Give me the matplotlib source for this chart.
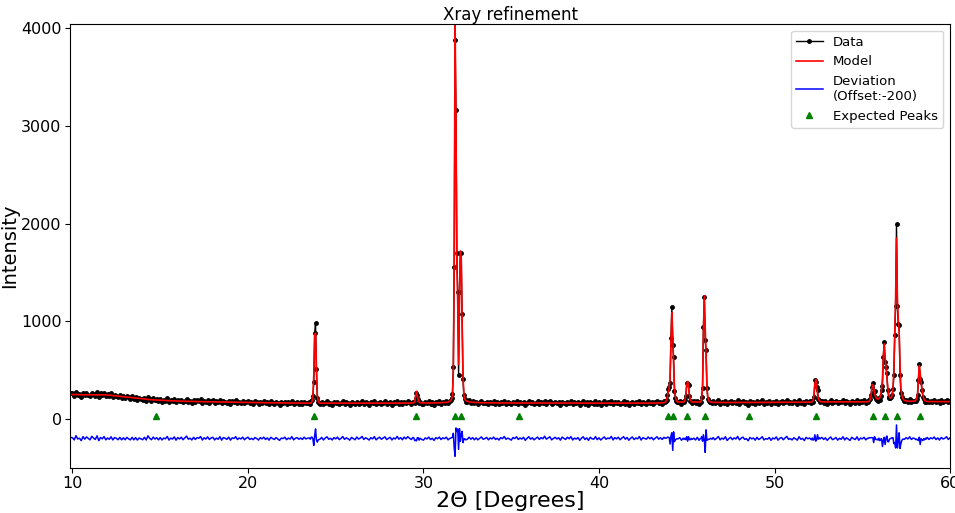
import numpy as np
import matplotlib
matplotlib.use("Agg")
import matplotlib.pyplot as plt

nan = np.nan

# Coarse scan, 0.1 deg steps from 9.9 to 60.0 (one row per degree).
# nan = covered by the finer scan around the peaks below.
bg_counts = [265,
    262, 238, 281, 247, 255, 229, 270, 243, 266, 251,   # 10
    236, 272, 255, 241, 279, 230, 262, 248, 271, 236,   # 11
    254, 239, 262, 228, 250, 241, 224, 246, 219, 238,   # 12
    216, 238, 221, 209, 232, 205, 226, 199, 218, 207,   # 13
    196, 219, 190, 231, 204, 187, 213, 192, 205, 181,   # 14
    203, 178, 196, 188, 211, 174, 193, 182, 204, 170,   # 15
    196, 181, 199, 172, 190, 208, 177, 186, 168, 195,   # 16
    172, 191, 183, 201, 165, 187, 174, 196, 169, 184,   # 17
    191, 163, 182, 170, 195, 160, 186, 178, 167, 190,   # 18
    158, 181, 175, 192, 163, 179, 168, 186, 160, 177,   # 19
    185, 162, 174, 159, 181, 170, 155, 178, 166, 183,   # 20
    160, 175, 152, 181, 169, 158, 177, 163, 149, 172,   # 21
    166, 180, 155, 171, 161, 185, 152, 168, 175, 158,   # 22
    171, 155, 178, 160, 168, nan, nan, nan, nan, nan,   # 23
    nan, 158, 176, 150, 169, 182, 157, 166, 149, 173,   # 24
    160, 178, 152, 165, 184, 155, 170, 161, 147, 175,   # 25
    163, 151, 179, 158, 168, 185, 154, 171, 162, 148,   # 26
    172, 160, 183, 150, 166, 177, 156, 169, 181, 153,   # 27
    165, 176, 149, 170, 160, 186, 158, 174, 152, 179,   # 28
    161, 183, 170, 155, 178, nan, nan, nan, nan, 158,   # 29
    150, 173, 162, 181, 156, 170, 148, 176, 165, 183,   # 30
    158, 177, 169, 186, 163, nan, nan, nan, nan, nan,   # 31
    nan, nan, nan, nan, nan, 175, 192, 168, 183, 160,   # 32
    178, 157, 172, 186, 161, 168, 180, 154, 174, 163,   # 33
    182, 158, 170, 151, 176, 165, 187, 159, 171, 162,   # 34
    150, 177, 166, 184, 157, 172, 161, 179, 148, 169,   # 35
    185, 160, 174, 153, 168, 181, 157, 176, 164, 190,   # 36
    159, 171, 183, 152, 166, 178, 161, 173, 149, 180,   # 37
    167, 156, 179, 163, 185, 151, 170, 160, 175, 147,   # 38
    168, 182, 155, 171, 146, 177, 162, 158, 184, 153,   # 39
    172, 149, 166, 181, 157, 170, 163, 186, 150, 174,   # 40
    161, 178, 152, 169, 183, 158, 175, 147, 167, 180,   # 41
    155, 171, 162, 186, 150, 174, 166, 159, 181, 163,   # 42
    177, 152, 170, 185, 160, 176, 158, 182, nan, nan,   # 43
    nan, nan, nan, nan, nan, nan, 187, 158, 179, nan,   # 44
    nan, nan, nan, nan, 181, 162, 189, 157, nan, nan,   # 45
    nan, nan, nan, nan, nan, 183, 160, 175, 192, 158,   # 46
    176, 165, 190, 152, 171, 184, 160, 178, 167, 193,   # 47
    158, 175, 186, 163, 170, 149, 182, 168, 177, 155,   # 48
    185, 162, 174, 191, 158, 172, 166, 183, 154, 178,   # 49
    169, 190, 157, 176, 184, 161, 179, 195, 165, 173,   # 50
    160, 182, 171, 158, 193, 167, 176, 154, 186, 172,   # 51
    181, 163, nan, nan, nan, nan, nan, 190, 168, 185,   # 52
    159, 178, 193, 166, 174, 188, 161, 180, 170, 196,   # 53
    163, 185, 172, 158, 190, 176, 167, 195, 160, 182,   # 54
    174, 191, 165, 183, nan, nan, nan, nan, nan, nan,   # 55
    nan, nan, nan, nan, nan, nan, nan, nan, nan, nan,   # 56
    nan, nan, nan, nan, nan, 196, 180, 201, 174, 190,   # 57
    185, nan, nan, nan, nan, nan, nan, 194, 172, 188,   # 58
    178, 196, 170, 187, 165, 192, 176, 183, 199, 171,   # 59
    188]

bg_model = [252,
    252, 251, 251, 250, 250, 249, 249, 248, 248, 248,   # 10
    248, 248, 249, 249, 250, 250, 250, 250, 249, 248,   # 11
    247, 245, 243, 241, 239, 237, 235, 233, 231, 229,   # 12
    227, 225, 223, 221, 219, 217, 215, 213, 211, 209,   # 13
    207, 205, 203, 202, 200, 198, 197, 196, 195, 193,   # 14
    192, 191, 190, 189, 188, 188, 187, 186, 186, 185,   # 15
    185, 184, 184, 183, 183, 182, 182, 181, 181, 181,   # 16
    180, 180, 179, 179, 179, 178, 178, 178, 177, 177,   # 17
    177, 176, 176, 176, 175, 175, 175, 174, 174, 174,   # 18
    173, 173, 173, 172, 172, 172, 171, 171, 171, 171,   # 19
    170, 170, 170, 169, 169, 169, 169, 168, 168, 168,   # 20
    168, 167, 167, 167, 167, 166, 166, 166, 166, 166,   # 21
    165, 165, 165, 165, 165, 164, 164, 164, 164, 164,   # 22
    164, 163, 163, 163, 163, nan, nan, nan, nan, nan,   # 23
    nan, 164, 163, 163, 163, 163, 163, 162, 162, 162,   # 24
    162, 162, 162, 162, 162, 162, 162, 162, 162, 162,   # 25
    162, 162, 162, 162, 162, 162, 162, 162, 162, 162,   # 26
    162, 162, 162, 162, 162, 162, 162, 162, 162, 162,   # 27
    162, 162, 162, 163, 163, 163, 163, 163, 163, 163,   # 28
    163, 163, 164, 164, 165, nan, nan, nan, nan, 166,   # 29
    165, 165, 165, 165, 165, 165, 166, 166, 166, 167,   # 30
    167, 168, 169, 171, 175, nan, nan, nan, nan, nan,   # 31
    nan, nan, nan, nan, nan, 181, 177, 174, 172, 171,   # 32
    170, 169, 168, 168, 167, 167, 167, 166, 166, 166,   # 33
    166, 166, 166, 165, 165, 165, 165, 165, 165, 165,   # 34
    165, 165, 165, 165, 165, 165, 165, 165, 165, 165,   # 35
    165, 165, 165, 165, 165, 165, 165, 165, 165, 165,   # 36
    164, 164, 164, 164, 164, 164, 164, 164, 164, 164,   # 37
    164, 164, 164, 164, 164, 164, 164, 164, 164, 164,   # 38
    163, 163, 163, 163, 163, 163, 163, 163, 163, 163,   # 39
    163, 163, 163, 163, 163, 163, 163, 163, 163, 163,   # 40
    163, 163, 163, 163, 163, 163, 163, 163, 163, 163,   # 41
    164, 164, 164, 164, 164, 164, 164, 164, 164, 164,   # 42
    164, 164, 165, 165, 165, 166, 166, 168, nan, nan,   # 43
    nan, nan, nan, nan, nan, nan, 176, 174, 174, nan,   # 44
    nan, nan, nan, nan, 176, 175, 175, 174, nan, nan,   # 45
    nan, nan, nan, nan, nan, 172, 171, 171, 170, 170,   # 46
    170, 170, 170, 170, 170, 170, 170, 170, 170, 170,   # 47
    170, 170, 170, 170, 170, 170, 170, 170, 170, 170,   # 48
    171, 171, 171, 171, 171, 171, 171, 171, 171, 171,   # 49
    172, 172, 172, 172, 172, 172, 172, 172, 172, 172,   # 50
    173, 173, 173, 173, 173, 173, 173, 173, 173, 173,   # 51
    174, 175, nan, nan, nan, nan, nan, 177, 176, 176,   # 52
    176, 176, 176, 176, 176, 176, 176, 176, 176, 176,   # 53
    176, 176, 176, 176, 176, 176, 176, 176, 176, 176,   # 54
    176, 177, 177, 178, nan, nan, nan, nan, nan, nan,   # 55
    nan, nan, nan, nan, nan, nan, nan, nan, nan, nan,   # 56
    nan, nan, nan, nan, nan, 186, 183, 182, 182, 183,   # 57
    185, nan, nan, nan, nan, nan, nan, 181, 180, 179,   # 58
    179, 179, 179, 179, 179, 179, 179, 179, 179, 179,   # 59
    179]

# Fine scan around the reflections, 0.05 deg steps from each start angle
pk_starts = [23.50, 29.45, 31.50, 43.75, 44.85, 45.75, 52.15, 55.35, 58.05]
pk_counts = [
    [170, 158, 182, 195, 236, 381, 880, 979, 508, 215, 172, 160],
    [175, 160, 215, 262, 250, 205, 160, 172],
    [185, 195, 215, 260, 535, 1557, 3880, 3160, 1694, 1300, 450, 1302,
     1694, 1694, 1074, 409, 250, 205, 180],
    [175, 185, 200, 250, 305, 330, 365, 830, 1150, 760, 630, 290, 220,
     190, 180, 172],
    [170, 200, 240, 370, 360, 350, 240, 190, 185, 168],
    [170, 180, 230, 314, 940, 1250, 810, 710, 314, 210, 185, 175, 180,
     172, 168],
    [185, 175, 230, 400, 380, 330, 300, 205, 200, 180, 185],
    [180, 195, 210, 250, 330, 365, 280, 290, 230, 205, 200, 190, 215,
     200, 240, 300, 340, 630, 784, 580, 535, 467, 300, 228, 220, 215,
     225, 250, 310, 450, 860, 1155, 1990, 1155, 971, 960, 450, 269, 230,
     210, 195, 185, 190],
    [185, 205, 250, 400, 560, 410, 380, 300, 230, 210, 180, 190, 178],
]
pk_model = [
    [163, 164, 167, 180, 240, 450, 850, 880, 520, 250, 185, 168],
    [168, 180, 230, 285, 240, 195, 175, 168],
    [182, 190, 205, 245, 480, 1650, 4060, 3050, 1620, 1200, 560, 1200,
     1720, 1650, 1000, 450, 255, 205, 192],
    [170, 178, 195, 235, 290, 320, 420, 800, 1090, 880, 560, 320, 230,
     195, 180, 174],
    [178, 195, 250, 350, 385, 330, 250, 200, 182, 176],
    [172, 180, 210, 340, 900, 1260, 950, 620, 330, 220, 190, 180, 176,
     174, 172],
    [178, 190, 240, 360, 405, 340, 260, 210, 190, 182, 178],
    [178, 185, 200, 240, 320, 355, 320, 270, 235, 215, 205, 205, 210,
     220, 245, 300, 420, 650, 770, 640, 530, 440, 330, 260, 225, 215,
     220, 240, 300, 500, 900, 1250, 1850, 1250, 1000, 900, 550, 320, 250,
     215, 200, 192, 188],
    [195, 210, 260, 420, 545, 470, 380, 310, 250, 210, 192, 185, 182],
]

expected_peaks = [14.76, 23.78, 29.59, 31.78, 32.15, 35.47, 43.95, 44.20,
                  45.04, 46.02, 48.53, 52.37, 55.60, 56.29, 56.96, 58.27]
offset = -200

# assemble the scan
bg_counts = np.array(bg_counts, dtype=float)
bg_model = np.array(bg_model, dtype=float)
bg_theta = 9.9 + 0.1 * np.arange(len(bg_counts))
keep = ~np.isnan(bg_counts)
theta = [bg_theta[keep]]
counts = [bg_counts[keep]]
model = [bg_model[keep]]
for start, c, m in zip(pk_starts, pk_counts, pk_model):
    theta.append(start + 0.05 * np.arange(len(c)))
    counts.append(np.array(c, dtype=float))
    model.append(np.array(m, dtype=float))
theta = np.concatenate(theta)
order = np.argsort(theta)
theta = theta[order]
counts = np.concatenate(counts)[order]
model = np.concatenate(model)[order]
deviation = counts - model + offset

fig = plt.figure(figsize=(9.55, 5.13), dpi=100)
ax = fig.add_axes([0.0733, 0.0877, 0.9215, 0.8655])
ax.plot(theta, counts, "k.-", markersize=5, linewidth=1, label="Data")
ax.plot(theta, model, "r-", linewidth=1.2, label="Model")
ax.plot(theta, deviation, "b-", linewidth=1.1,
        label="Deviation\n(Offset:%d)" % offset)
ax.plot(expected_peaks, np.full(len(expected_peaks), 30), "g^",
        markersize=5, label="Expected Peaks")

ax.set_xlim(9.86, 60.0)
ax.set_ylim(-500, 4040)
ax.set_title("Xray refinement", fontsize=12, pad=2.5)
ax.set_xlabel("2\u0398 [Degrees]", fontsize=16, labelpad=0)
ax.set_ylabel("Intensity", fontsize=14)
ax.yaxis.set_label_coords(-0.058, 0.5)
ax.tick_params(labelsize=11.5, pad=2.5)
ax.legend(loc="upper right", fontsize=9.5)

plt.savefig("out.png", dpi=100)
plt.close()
